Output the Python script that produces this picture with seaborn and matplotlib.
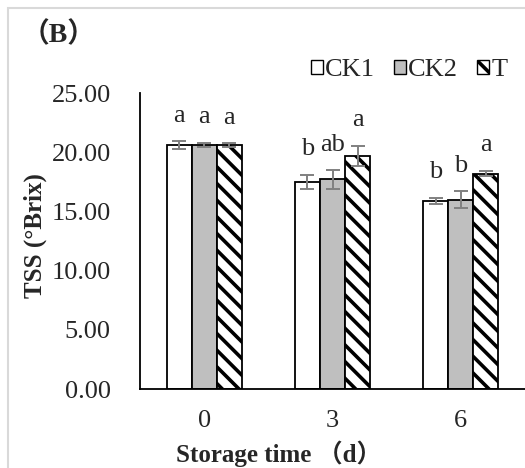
import matplotlib
matplotlib.use("Agg")
import matplotlib.pyplot as plt
from matplotlib.patches import Patch, Rectangle
import seaborn as sns
import pandas as pd

days = ["0", "3", "6"]
groups = ["CK1", "CK2", "T"]
ck1_mean = [20.6, 17.5, 15.9]
ck2_mean = [20.6, 17.7, 16.0]
t_mean = [20.6, 19.7, 18.2]
ck1_err = [0.35, 0.6, 0.25]
ck2_err = [0.2, 0.8, 0.7]
t_err = [0.15, 0.85, 0.25]
ck1_letters = ["a", "b", "b"]
ck2_letters = ["a", "ab", "b"]
t_letters = ["a", "a", "a"]
y_ticks = [0, 5, 10, 15, 20, 25]

means = [ck1_mean, ck2_mean, t_mean]
errs = [ck1_err, ck2_err, t_err]
letters = [ck1_letters, ck2_letters, t_letters]

rows = []
for g, m in zip(groups, means):
    for d, v in zip(days, m):
        rows.append({"day": d, "group": g, "value": v})
df = pd.DataFrame(rows)

sns.set_style("white")
plt.rcParams["font.family"] = ["Liberation Serif", "Noto Sans CJK SC"]
plt.rcParams["hatch.linewidth"] = 2.6
plt.rcParams["hatch.color"] = "black"

fig = plt.figure(figsize=(5.25, 4.68), dpi=100)
ax = fig.add_axes([140 / 525, 1 - 389 / 468, (525 - 140) / 525, (389 - 93) / 468])

palette = {"CK1": "white", "CK2": "#bfbfbf", "T": "white"}
sns.barplot(data=df, x="day", y="value", hue="group", hue_order=groups,
            order=days, palette=palette, width=0.585, errorbar=None,
            edgecolor="black", linewidth=1.3, saturation=1, legend=False, ax=ax)

bar_containers = list(ax.containers)
for i, cont in enumerate(bar_containers):
    xs, hs = [], []
    for bar in cont.patches:
        xs.append(bar.get_x() + bar.get_width() / 2)
        hs.append(bar.get_height())
        if groups[i] == "T":
            bar.set_hatch("\\\\")
    ax.errorbar(xs, hs, yerr=errs[i], fmt="none", ecolor="#808080",
                elinewidth=1.4, capsize=4.7, capthick=1.4, zorder=5)
    for x, h, e, lab in zip(xs, hs, errs[i], letters[i]):
        ax.annotate(lab, (x, h + e), xytext=(0, 14), textcoords="offset points",
                    ha="center", va="baseline", fontsize=19)

ax.set_xlim(-0.5, 2.5)
ax.set_ylim(0, 25)
ax.set_yticks(y_ticks)
ax.set_yticklabels([f"{v:.2f}" for v in y_ticks])
ax.tick_params(axis="y", direction="in", length=7, width=1.3, pad=21, labelsize=19)
ax.tick_params(axis="x", length=0, pad=15, labelsize=19)
ax.set_xlabel("")
ax.set_ylabel("")
for s in ["top", "right"]:
    ax.spines[s].set_visible(False)
for s in ["left", "bottom"]:
    ax.spines[s].set_color("black")
    ax.spines[s].set_linewidth(1.3)

handles = [Patch(facecolor=palette[g], edgecolor="black", linewidth=1.0,
                 hatch=("\\\\" if g == "T" else None), label=g) for g in groups]
fig.legend(handles=handles, loc="center", bbox_to_anchor=(409 / 525, 1 - 70 / 468),
           ncol=3, frameon=False, fontsize=19, handlelength=0.45, handleheight=0.45,
           handletextpad=0.1, columnspacing=0.7, borderpad=0)

fig.text(22 / 525, 1 - 35 / 468, "（B）", fontsize=20, fontweight="bold",
         ha="left", va="center")
fig.text(35 / 525, 1 - 236 / 468, "TSS (°Brix)", fontsize=18, fontweight="bold",
         rotation=90, ha="center", va="center")
fig.text(279 / 525, 1 - 462 / 468, "Storage time （d）", fontsize=18,
         fontweight="bold", ha="center", va="baseline")

fig.patches.append(Rectangle((8 / 525, -0.1), 1.2, 1 - 8 / 468 + 0.1,
                             transform=fig.transFigure, fill=False,
                             edgecolor="#d9d9d9", linewidth=1.5))

fig.savefig("out.png", dpi=100)
